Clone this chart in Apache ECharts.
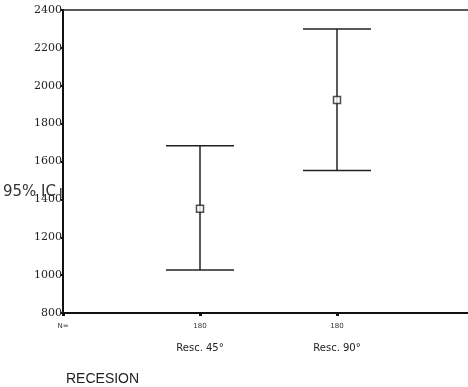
<!DOCTYPE html>
<html><head><meta charset="utf-8">
<script src="https://cdn.jsdelivr.net/npm/echarts@6/dist/echarts.min.js"></script>
<style>html,body{margin:0;padding:0;background:#fff}#c{width:468px;height:387px}</style>
</head><body><div id="c"></div>
<script>
var categories = ['Resc. 45°', 'Resc. 90°'];
var counts = [180, 180];
var means = [1350, 1925];
var lower = [1027, 1553];
var upper = [1683, 2300];
var yTicks = [800, 1000, 1200, 1400, 1600, 1800, 2000, 2200, 2400];

var chart = echarts.init(document.getElementById('c'));
var barData = categories.map(function (c, i) { return [i + 1, lower[i], upper[i]]; });
var meanData = categories.map(function (c, i) { return [i + 1, means[i]]; });

chart.setOption({
  animation: false,
  backgroundColor: '#fff',
  grid: { left: 63, width: 411, top: 10, height: 303, outerBoundsMode: 'none', containLabel: false,
          show: true, borderColor: '#222', borderWidth: 1.5, backgroundColor: 'transparent' },
  xAxis: {
    type: 'value', min: 0, max: 3, interval: 1,
    splitLine: { show: false },
    axisLine: { lineStyle: { color: '#111', width: 2 } },
    axisTick: { show: true, length: 3, lineStyle: { color: '#111', width: 3 } },
    axisLabel: {
      margin: 8,
      formatter: function (v) {
        if (v === 0) return '{n|N=}';
        var i = Math.round(v) - 1;
        if (i < 0 || i >= categories.length) return '';
        return '{n|' + counts[i] + '}\n{c|' + categories[i] + '}';
      },
      rich: {
        n: { fontSize: 7, fontFamily: 'DejaVu Sans', color: '#333', lineHeight: 10 },
        c: { fontSize: 10, fontFamily: 'DejaVu Sans', color: '#222', lineHeight: 34 }
      }
    }
  },
  yAxis: {
    type: 'value', min: 800, max: 2400, interval: 200,
    splitLine: { show: false },
    axisLine: { lineStyle: { color: '#111', width: 2 } },
    axisTick: { show: true, length: 2, lineStyle: { color: '#111', width: 2 } },
    axisLabel: {
      margin: 1, fontSize: 11, fontFamily: 'DejaVu Serif', color: '#222',
      formatter: function (v) { return yTicks.indexOf(v) >= 0 ? String(v) : ''; }
    }
  },
  graphic: [
    { type: 'text', left: 3, top: 185, z: 100, style: { text: '95% IC', fontSize: 15, fontFamily: 'DejaVu Sans', fill: '#333' } },
    { type: 'rect', left: 60, top: 188, z: 100, shape: { width: 1.5, height: 10 }, style: { fill: '#444' } },
    { type: 'text', left: 66, top: 372, style: { text: 'RECESION', fontSize: 14, fontFamily: 'Liberation Sans', fill: '#222' } }
  ],
  series: [
    {
      type: 'custom',
      data: barData,
      renderItem: function (params, api) {
        var x = api.value(0);
        var lo = api.coord([x, api.value(1)]);
        var hi = api.coord([x, api.value(2)]);
        var hw = 34;
        var st = { stroke: '#222', lineWidth: 1.5 };
        return {
          type: 'group', children: [
            { type: 'line', shape: { x1: lo[0], y1: lo[1], x2: hi[0], y2: hi[1] }, style: st },
            { type: 'line', shape: { x1: lo[0] - hw, y1: lo[1], x2: lo[0] + hw, y2: lo[1] }, style: st },
            { type: 'line', shape: { x1: hi[0] - hw, y1: hi[1], x2: hi[0] + hw, y2: hi[1] }, style: st }
          ]
        };
      },
      z: 2
    },
    {
      type: 'scatter',
      data: meanData,
      symbol: 'rect',
      symbolSize: 7,
      itemStyle: { color: '#fff', borderColor: '#222', borderWidth: 1.5 },
      z: 3
    }
  ]
});
</script></body></html>
